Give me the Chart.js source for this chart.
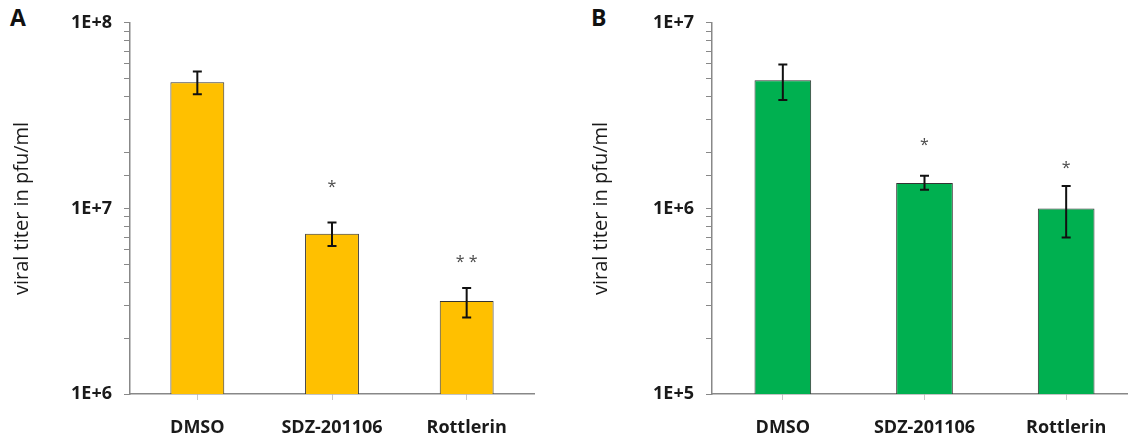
<!DOCTYPE html>
<html><head><meta charset="utf-8">
<script src="https://cdn.jsdelivr.net/npm/chart.js@4/dist/chart.umd.min.js"></script>
<style>
html,body{margin:0;padding:0;background:#fff;overflow:hidden;width:1128px;height:440px;position:relative;}
canvas{position:absolute;top:0;}
.lab{position:absolute;font-family:"Open Sans",sans-serif;font-weight:bold;font-size:23px;color:#111;line-height:1;}
</style></head>
<body>
<div class="lab" style="left:10px;top:6px;">A</div>
<div class="lab" style="left:591px;top:6px;">B</div>
<canvas id="cA" width="560" height="440" style="left:0px;"></canvas>
<canvas id="cB" width="560" height="440" style="left:580px;"></canvas>
<script>
const categories = ['DMSO', 'SDZ-201106', 'Rottlerin'];

const valuesA = [4.78e7, 7.3e6, 3.17e6];
const upperA  = [5.47e7, 8.4e6, 3.73e6];
const lowerA  = [4.12e7, 6.27e6, 2.58e6];
const starsA  = ['', '*', '**'];
const starPosA = [null, 1.38e7, 5.47e6];

const valuesB = [4.9e6, 1.37e6, 1.0e6];
const upperB  = [5.97e6, 1.50e6, 1.32e6];
const lowerB  = [3.84e6, 1.26e6, 6.97e5];
const starsB  = ['', '*', '*'];
const starPosB = [null, 2.35e6, 1.75e6];

const yLabelsA = {1e6:'1E+6', 1e7:'1E+7', 1e8:'1E+8'};
const yLabelsB = {1e5:'1E+5', 1e6:'1E+6', 1e7:'1E+7'};

const FONT = '"Open Sans", sans-serif';
const AXIS = '#888888';

const errPlugin = {
  id: 'errbars',
  afterDatasetsDraw(chart, args, opts) {
    const ctx = chart.ctx;
    const y = chart.scales.y;
    const meta = chart.getDatasetMeta(0);
    ctx.save();
    ctx.strokeStyle = '#111';
    ctx.lineWidth = 2;
    opts.upper.forEach((u, i) => {
      const px = meta.data[i].x;
      const yt = y.getPixelForValue(u);
      const yb = y.getPixelForValue(opts.lower[i]);
      ctx.beginPath();
      ctx.moveTo(px, yt); ctx.lineTo(px, yb);
      ctx.moveTo(px - 4.5, yt); ctx.lineTo(px + 4.5, yt);
      ctx.moveTo(px - 4.5, yb); ctx.lineTo(px + 4.5, yb);
      ctx.stroke();
    });
    ctx.fillStyle = '#4a4a4a';
    ctx.font = '16px ' + FONT;
    ctx.textAlign = 'center';
    ctx.textBaseline = 'alphabetic';
    opts.stars.forEach((s, i) => {
      if (!s) return;
      const px = meta.data[i].x;
      const py = y.getPixelForValue(opts.starPos[i]);
      ctx.fillText(s.split('').join(' '), px, py + 10);
    });
    ctx.restore();
  }
};

function makeChart(id, values, upper, lower, stars, starPos, color, yMin, yMax, yLabels, yWidth, padRight, titlePad) {
  return new Chart(document.getElementById(id), {
    type: 'bar',
    data: {
      labels: categories,
      datasets: [{
        data: values,
        backgroundColor: color,
        borderColor: '#333333',
        borderWidth: 1,
        categoryPercentage: 1.0,
        barPercentage: 0.4
      }]
    },
    options: {
      responsive: false,
      animation: false,
      layout: { padding: { left: 0, top: 19, right: padRight, bottom: 0 } },
      plugins: {
        legend: { display: false },
        tooltip: { enabled: false },
        errbars: { upper: upper, lower: lower, stars: stars, starPos: starPos }
      },
      scales: {
        x: {
          grid: { drawOnChartArea: false, drawTicks: true, tickLength: 6, offset: false, color: '#c8c8c8' },
          border: { color: AXIS, width: 1.5 },
          ticks: { font: { family: FONT, size: 18, weight: 'bold' }, color: '#1a1a1a', padding: 17 },
          afterFit(s) { s.height = 46; }
        },
        y: {
          type: 'logarithmic',
          min: yMin, max: yMax,
          grid: { drawOnChartArea: false, drawTicks: true, tickLength: 6, color: AXIS },
          border: { color: AXIS, width: 1.5 },
          ticks: {
            autoSkip: false,
            font: { family: FONT, size: 18, weight: 'bold' },
            color: '#1a1a1a',
            padding: 12,
            callback: (v) => yLabels[v] || ''
          },
          title: {
            display: true,
            text: 'viral titer in pfu/ml',
            font: { family: FONT, size: 20 },
            color: '#1a1a1a',
            padding: { top: titlePad, bottom: 0 }
          },
          afterFit(s) { s.width = yWidth; }
        }
      }
    },
    plugins: [errPlugin]
  });
}

makeChart('cA', valuesA, upperA, lowerA, starsA, starPosA, '#FFC000', 1e6, 1e8, yLabelsA, 130, 26, 10);
makeChart('cB', valuesB, upperB, lowerB, starsB, starPosB, '#00B050', 1e5, 1e7, yLabelsB, 132, 3, 9);
</script>
</body></html>
